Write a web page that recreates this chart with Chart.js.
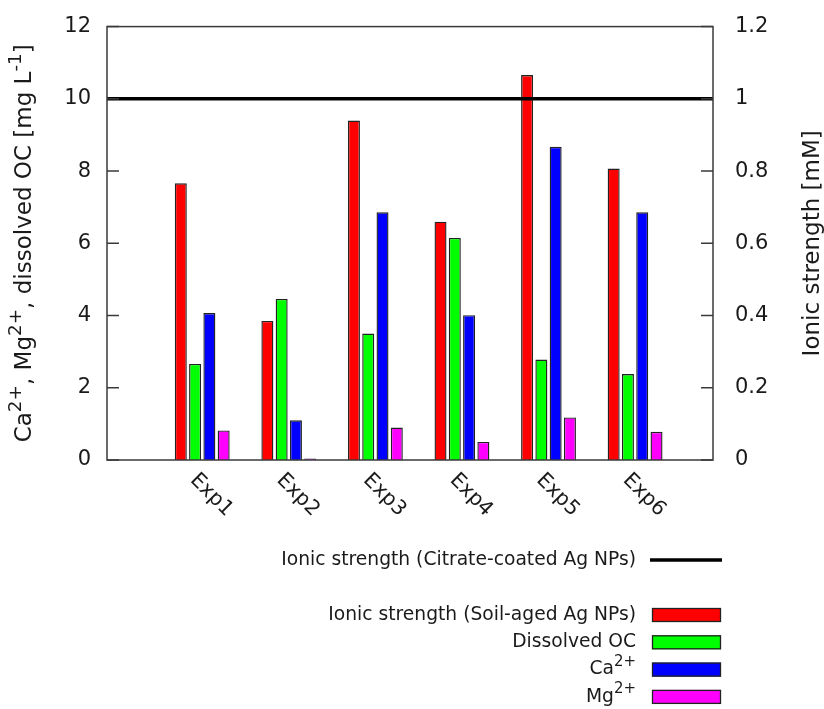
<!DOCTYPE html>
<html>
<head>
<meta charset="utf-8">
<script src="https://cdn.jsdelivr.net/npm/chart.js@4"></script>
<style>
body { margin: 0; background: #fff; }
</style>
</head>
<body>
<canvas id="chart" width="824" height="709"></canvas>
<script>
// values
var categories = ['Exp1', 'Exp2', 'Exp3', 'Exp4', 'Exp5', 'Exp6'];
var ionicSoil = [0.766, 0.385, 0.94, 0.66, 1.066, 0.807];   // mM (right axis)
var dissolvedOC = [2.66, 4.46, 3.50, 6.15, 2.78, 2.38];     // mg/L
var calcium = [4.07, 1.10, 6.86, 4.01, 8.67, 6.86];         // mg/L
var magnesium = [0.82, 0.04, 0.90, 0.50, 1.18, 0.78];       // mg/L
var ionicCitrate = 1.0;                                      // mM
var leftTicks = [0, 2, 4, 6, 8, 10, 12];
var rightTicks = [0, 0.2, 0.4, 0.6, 0.8, 1, 1.2];
var xMin = -1.1, xMax = 5.9;

var textColor = '#1a1a1a';
var fontFamily = "'DejaVu Sans', sans-serif";

function points(arr) {
    return arr.map(function (v, i) { return { x: i, y: v }; });
}

// split "Ca^{2+}" style text into normal / superscript runs
function runs(str) {
    var out = [], re = /\^\{([^}]*)\}/g, last = 0, m;
    while ((m = re.exec(str))) {
        if (m.index > last) out.push({ t: str.slice(last, m.index), sup: false });
        out.push({ t: m[1], sup: true });
        last = re.lastIndex;
    }
    if (last < str.length) out.push({ t: str.slice(last), sup: false });
    return out;
}

function drawRich(ctx, str, x, y, size, align) {
    var parts = runs(str), w = 0;
    parts.forEach(function (p) {
        ctx.font = (p.sup ? size * 0.8 : size) + 'px ' + fontFamily;
        p.w = ctx.measureText(p.t).width;
        w += p.w;
    });
    var pos = align === 'right' ? x - w : (align === 'center' ? x - w / 2 : x);
    ctx.textAlign = 'left';
    ctx.textBaseline = 'middle';
    parts.forEach(function (p) {
        ctx.font = (p.sup ? size * 0.8 : size) + 'px ' + fontFamily;
        ctx.fillText(p.t, pos, p.sup ? y - size * 0.4 : y);
        pos += p.w;
    });
}

var frame = {
    id: 'frame',
    afterDatasetsDraw: function (chart) {
        var ctx = chart.ctx, a = chart.chartArea;
        var midY = (a.top + a.bottom) / 2;
        ctx.save();
        ctx.strokeStyle = '#3a3a3a';
        ctx.lineWidth = 1.5;
        ctx.strokeRect(a.left, a.top, a.right - a.left, a.bottom - a.top);

        // tick marks point into the plot
        ctx.beginPath();
        leftTicks.forEach(function (v) {
            var y = chart.scales.y.getPixelForValue(v);
            ctx.moveTo(a.left, y); ctx.lineTo(a.left + 12, y);
        });
        rightTicks.forEach(function (v) {
            var y = chart.scales.y1.getPixelForValue(v);
            ctx.moveTo(a.right, y); ctx.lineTo(a.right - 12, y);
        });
        ctx.stroke();

        ctx.fillStyle = textColor;

        // rotated category labels
        ctx.font = '20.5px ' + fontFamily;
        ctx.textAlign = 'left';
        ctx.textBaseline = 'middle';
        categories.forEach(function (c, i) {
            var x = chart.scales.x.getPixelForValue(i);
            ctx.save();
            ctx.translate(x - 9, a.bottom + 17);
            ctx.rotate(Math.PI / 4);
            ctx.fillText(c, 0, 0);
            ctx.restore();
        });

        // left axis title
        ctx.save();
        ctx.translate(25, midY);
        ctx.rotate(-Math.PI / 2);
        drawRich(ctx, 'Ca^{2+}, Mg^{2+}, dissolved OC [mg L^{-1}]', 0, 0, 23, 'center');
        ctx.restore();

        // right axis title, reading upwards
        ctx.save();
        ctx.translate(813, midY);
        ctx.rotate(-Math.PI / 2);
        drawRich(ctx, 'Ionic strength [mM]', 0, 0, 23, 'center');
        ctx.restore();

        // legend
        var ds = chart.data.datasets;
        drawRich(ctx, ds[0].label, 636, 560, 18.7, 'right');
        ctx.strokeStyle = '#000';
        ctx.lineWidth = 3.5;
        ctx.beginPath();
        ctx.moveTo(650, 560); ctx.lineTo(722, 560);
        ctx.stroke();
        for (var k = 1; k < ds.length; k++) {
            var yy = 615 + (k - 1) * 27.3;
            ctx.fillStyle = textColor;
            drawRich(ctx, ds[k].label, 636, yy, 18.7, 'right');
            ctx.fillStyle = ds[k].backgroundColor;
            ctx.fillRect(652, yy - 7, 69, 14);
            ctx.strokeStyle = '#222';
            ctx.lineWidth = 1.3;
            ctx.strokeRect(652.5, yy - 6.5, 68, 13);
        }
        ctx.restore();
    }
};

var ctx = document.getElementById('chart');
new Chart(ctx, {
    type: 'bar',
    data: {
        datasets: [{
            type: 'line',
            label: 'Ionic strength (Citrate-coated Ag NPs)',
            data: [{ x: xMin, y: ionicCitrate }, { x: xMax, y: ionicCitrate }],
            yAxisID: 'y1',
            borderColor: '#000',
            borderWidth: 3.5,
            pointRadius: 0,
            order: 0
        }, {
            label: 'Ionic strength (Soil-aged Ag NPs)',
            data: points(ionicSoil),
            yAxisID: 'y1',
            backgroundColor: '#ff0000',
            order: 1
        }, {
            label: 'Dissolved OC',
            data: points(dissolvedOC),
            yAxisID: 'y',
            backgroundColor: '#00ff00',
            order: 1
        }, {
            label: 'Ca^{2+}',
            data: points(calcium),
            yAxisID: 'y',
            backgroundColor: '#0000ff',
            order: 1
        }, {
            label: 'Mg^{2+}',
            data: points(magnesium),
            yAxisID: 'y',
            backgroundColor: '#ff00ff',
            order: 1
        }]
    },
    options: {
        responsive: false,
        animation: false,
        devicePixelRatio: 1,
        layout: { padding: { top: 9, left: 0, right: 0, bottom: 0 } },
        plugins: {
            legend: { display: false },
            tooltip: { enabled: false }
        },
        datasets: {
            bar: {
                categoryPercentage: 0.66,
                barPercentage: 0.84,
                borderWidth: 1.4,
                borderColor: '#222'
            }
        },
        scales: {
            x: {
                type: 'linear',
                min: xMin,
                max: xMax,
                offset: false,
                grid: { display: false },
                border: { display: false },
                ticks: { display: false },
                afterBuildTicks: function (s) {
                    s.ticks = categories.map(function (c, i) { return { value: i }; });
                },
                afterFit: function (s) { s.height = 249; }
            },
            y: {
                position: 'left',
                min: 0,
                max: 12,
                grid: { display: false },
                border: { display: false },
                afterBuildTicks: function (s) {
                    s.ticks = leftTicks.map(function (v) { return { value: v }; });
                },
                ticks: {
                    padding: 8,
                    color: textColor,
                    font: { family: fontFamily, size: 21 }
                },
                afterFit: function (s) { s.width = 107; }
            },
            y1: {
                position: 'right',
                min: 0,
                max: 1.2,
                grid: { display: false },
                border: { display: false },
                afterBuildTicks: function (s) {
                    s.ticks = rightTicks.map(function (v) { return { value: v }; });
                },
                ticks: {
                    padding: 14,
                    color: textColor,
                    font: { family: fontFamily, size: 21 },
                    callback: function (v) { return String(v); }
                },
                afterFit: function (s) { s.width = 111; }
            }
        }
    },
    plugins: [frame]
});
</script>
</body>
</html>
